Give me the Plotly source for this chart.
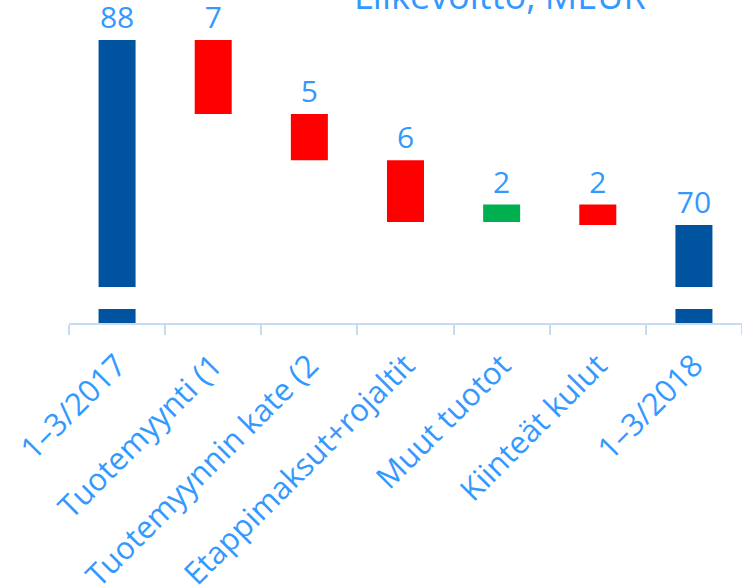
import plotly.graph_objects as go

# ---- data ----
categories = ["1–3/2017", "Tuotemyynti (1", "Tuotemyynnin kate (2",
              "Etappimaksut+rojaltit", "Muut tuotot", "Kiinteät kulut", "1–3/2018"]
start_value = 88.0
deltas = [-7.2, -4.5, -6.0, 1.7, -2.0]
value_labels = ["88", "7", "5", "6", "2", "2", "70"]
title_text = "Liikevoitto, MEUR"

# ---- styling ----
BLUE = "#00549F"
RED = "#FF0000"
GREEN = "#00B050"
TEXT = "#3399FF"
AXIS = "#C5DCF3"
FONT = "Open Sans"

# axis window and break (display only)
AXIS_MIN, AXIS_MAX = 60.47, 91.9
BREAK_FROM, BREAK_TO = 61.83, 63.97

# ---- build waterfall geometry from data ----
bases, heights, colors = [], [], []
bases.append(0); heights.append(start_value); colors.append(BLUE)
level = start_value
for d in deltas:
    new = level + d
    bases.append(min(level, new))
    heights.append(abs(d))
    colors.append(GREEN if d > 0 else RED)
    level = new
bases.append(0); heights.append(level); colors.append(BLUE)

fig = go.Figure(go.Bar(
    x=categories, y=heights, base=bases,
    marker=dict(color=colors, line=dict(width=0)),
    width=0.385,
    text=value_labels, textposition="outside", cliponaxis=False,
    textfont=dict(family=FONT, size=30, color=TEXT),
    hoverinfo="skip",
))

fig.add_shape(type="rect", xref="paper", yref="y", x0=0, x1=1,
              y0=BREAK_FROM, y1=BREAK_TO, fillcolor="white",
              line=dict(width=0), layer="above")

fig.add_annotation(text=title_text, xref="paper", yref="paper",
                   x=0.641, y=0.932, xanchor="center", yanchor="bottom",
                   showarrow=False, font=dict(family=FONT, size=36, color=TEXT))

fig.update_layout(
    width=742, height=585,
    margin=dict(l=69, r=0, t=0, b=262),
    paper_bgcolor="white", plot_bgcolor="white",
    showlegend=False,
    xaxis=dict(type="category", tickson="boundaries", ticks="outside",
               ticklen=10, tickwidth=1.5, tickcolor=AXIS,
               showline=True, linecolor=AXIS, linewidth=1.5,
               showgrid=False, tickangle=-45, ticklabelstandoff=10,
               tickfont=dict(family=FONT, size=31, color=TEXT),
               automargin=False),
    yaxis=dict(range=[AXIS_MIN, AXIS_MAX], visible=False, showgrid=False,
               zeroline=False, automargin=False),
)

fig.write_html("out.html", config={"displayModeBar": False},
               post_script="document.body.style.margin='0';document.body.style.overflow='hidden';")
